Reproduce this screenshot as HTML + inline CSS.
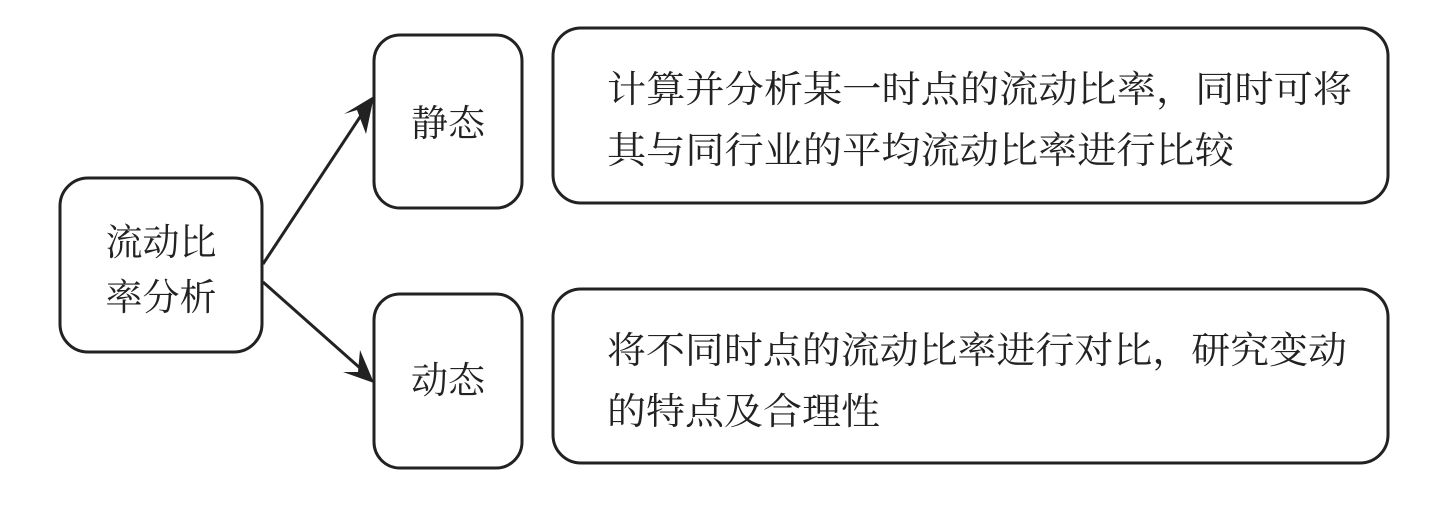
<!DOCTYPE html>
<html><head><meta charset="utf-8"><style>
html,body{margin:0;padding:0;background:#fff;}
svg{display:block;}
text{font-family:"Liberation Serif","Noto Serif CJK SC",serif;fill:#222;}
</style></head><body>
<svg width="1450" height="508" viewBox="0 0 1450 508" xmlns="http://www.w3.org/2000/svg">
<g fill="none" stroke="#222" stroke-width="3">
<rect x="60" y="178" width="202" height="174" rx="28"/>
<rect x="374" y="35" width="148" height="173" rx="26"/>
<rect x="374" y="294" width="148" height="174" rx="26"/>
<rect x="553" y="28" width="835" height="175" rx="28"/>
<rect x="553" y="289" width="835" height="174" rx="28"/>
<line x1="263" y1="264" x2="362" y2="114"/>
<line x1="263" y1="282" x2="360" y2="368"/>
</g>
<polygon points="374,96 344,114 357,110 366,134" fill="#222"/>
<polygon points="374,383 343,372 358,372 360,350" fill="#222"/>
<g font-size="37">
<text x="161" y="255" text-anchor="middle">流动比</text>
<text x="161" y="310" text-anchor="middle">率分析</text>
<text x="448" y="136" text-anchor="middle">静态</text>
<text x="448" y="393" text-anchor="middle">动态</text>
<text x="607" y="102" textLength="745" lengthAdjust="spacingAndGlyphs">计算并分析某一时点的流动比率，同时可将</text>
<text x="607" y="163" textLength="627" lengthAdjust="spacingAndGlyphs">其与同行业的平均流动比率进行比较</text>
<text x="607" y="363" textLength="740" lengthAdjust="spacingAndGlyphs">将不同时点的流动比率进行对比，研究变动</text>
<text x="607" y="424" textLength="273" lengthAdjust="spacingAndGlyphs">的特点及合理性</text>
</g>
</svg>
</body></html>
